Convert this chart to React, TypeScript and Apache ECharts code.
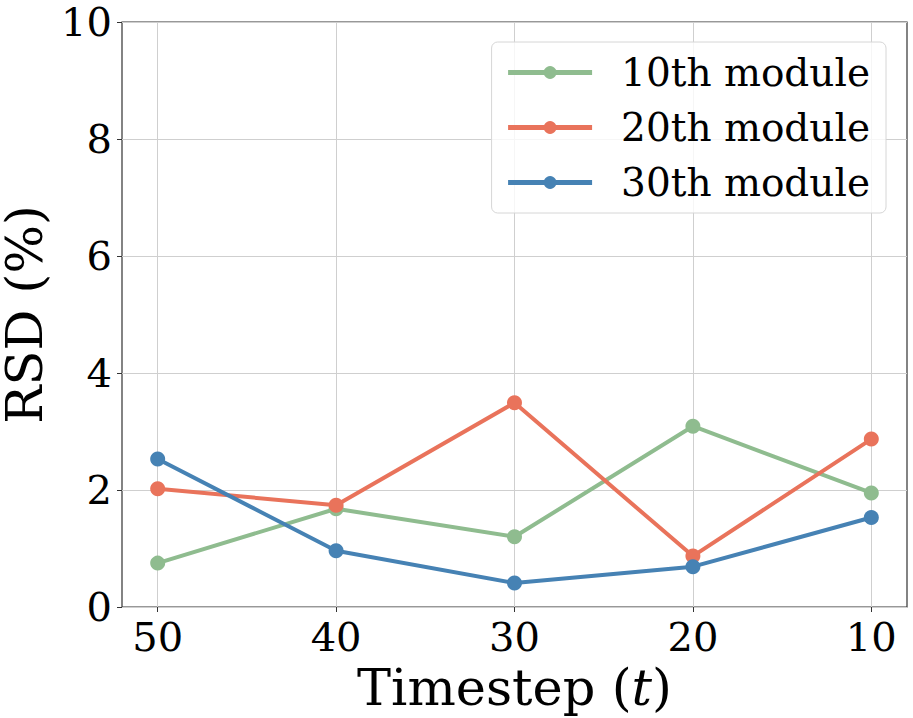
import React, { useEffect, useRef } from "react";
import * as echarts from "echarts";

const timesteps = [50, 40, 30, 20, 10];
const module10 = [0.75, 1.68, 1.2, 3.09, 1.95];
const module20 = [2.02, 1.74, 3.49, 0.87, 2.87];
const module30 = [2.53, 0.96, 0.41, 0.69, 1.53];
const seriesNames = ["10th module", "20th module", "30th module"];
const colors = ["#8FBC8F", "#E9735B", "#4682B4"];
const yTicks = [0, 2, 4, 6, 8, 10];

const FONT = "DejaVu Serif";

export default function App() {
  const ref = useRef<HTMLDivElement>(null);
  useEffect(() => {
    if (!ref.current) return;
    const chart = echarts.init(ref.current, undefined, { renderer: "svg" });
    const all = [module10, module20, module30];
    chart.setOption({
      animation: false,
      backgroundColor: "#ffffff",
      grid: {
        left: 122,
        right: 6,
        top: 22,
        bottom: 111,
        containLabel: false,
        outerBoundsMode: "none",
        show: true,
        borderColor: "#333333",
        borderWidth: 1.2,
        backgroundColor: "transparent",
      },
      legend: {
        orient: "vertical",
        right: 27,
        top: 42,
        data: seriesNames,
        itemWidth: 84,
        itemHeight: 16,
        itemGap: 16,
        padding: [11, 16, 11, 14],
        backgroundColor: "rgba(255,255,255,0.8)",
        borderColor: "#d6d6d6",
        borderWidth: 1,
        borderRadius: 6,
        lineStyle: { width: 5 },
        textStyle: {
          fontFamily: FONT,
          fontSize: 39,
          color: "#000",
          padding: [0, 0, 0, 24],
        },
      },
      xAxis: {
        type: "value",
        inverse: true,
        min: 8,
        max: 52,
        name: "{a|Timestep (}{b|t}{a|)}",
        nameLocation: "middle",
        nameGap: 50,
        nameTextStyle: {
          rich: {
            a: { fontFamily: FONT, fontSize: 51, color: "#000" },
            b: { fontFamily: FONT, fontSize: 51, fontStyle: "italic", color: "#000" },
          },
        },
        axisLine: { show: false },
        axisTick: {
          show: true,
          customValues: timesteps,
          length: 5,
          lineStyle: { color: "#333" },
        },
        axisLabel: {
          customValues: timesteps,
          fontFamily: FONT,
          fontSize: 40,
          color: "#000",
          margin: 10,
        },
        splitLine: { show: true, lineStyle: { color: "#cfcfcf", width: 1 } },
      },
      yAxis: {
        type: "value",
        min: 0,
        max: 10,
        interval: 2,
        name: "RSD (%)",
        nameLocation: "middle",
        nameGap: 70,
        nameTextStyle: { fontFamily: FONT, fontSize: 51, color: "#000", lineHeight: 51 },
        axisLine: { show: false },
        axisTick: { show: true, length: 5, lineStyle: { color: "#333" } },
        axisLabel: {
          fontFamily: FONT,
          fontSize: 40,
          color: "#000",
          margin: 10,
          formatter: (v: number) => (yTicks.includes(v) ? String(v) : ""),
        },
        splitLine: { show: true, lineStyle: { color: "#cfcfcf", width: 1 } },
      },
      series: all.map((vals, i) => ({
        name: seriesNames[i],
        type: "line",
        data: timesteps.map((t, j) => [t, vals[j]]),
        symbol: "circle",
        symbolSize: 15,
        lineStyle: { width: 4, color: colors[i] },
        itemStyle: { color: colors[i] },
        z: 2 + i,
      })),
    });
    return () => chart.dispose();
  }, []);
  return <div ref={ref} style={{ width: 913, height: 718, position: "absolute", left: 0, top: 0 }} />;
}
